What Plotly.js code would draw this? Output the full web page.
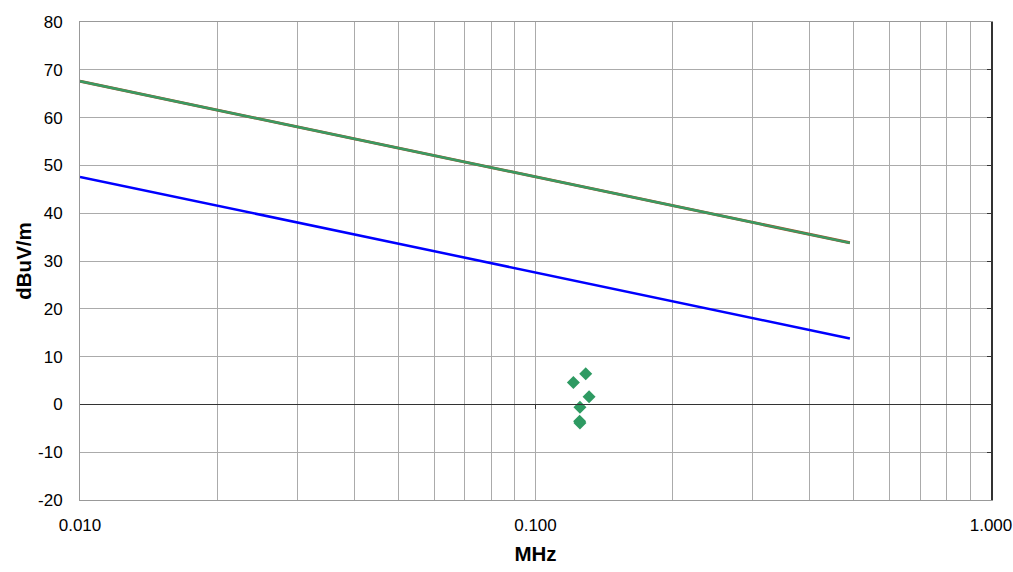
<!DOCTYPE html>
<html>
<head>
<meta charset="utf-8">
<script src="https://cdn.plot.ly/plotly-3.0.1.min.js"></script>
<style>html,body{margin:0;padding:0;background:#fff;}#chart{width:1013px;height:572px;}</style>
</head>
<body>
<div id="chart"></div>
<script>
// Data
const limitFreq = [0.01, 0.49];
const peakLimit = [67.6, 33.8];
const qpLimit = [67.6, 33.8];
const avgLimit = [47.6, 13.8];
const measFreq = [0.1211, 0.1289, 0.1311, 0.1252, 0.1250, 0.1252];
const measLevel = [4.6, 6.4, 1.6, -0.6, -3.5, -3.9];
const xTickVals = [0.01,0.02,0.03,0.04,0.05,0.06,0.07,0.08,0.09,0.1,0.2,0.3,0.4,0.5,0.6,0.7,0.8,0.9,1];
const xTickText = ['0.010','','','','','','','','','0.100','','','','','','','','','1.000'];
const yTickVals = [-20,-10,0,10,20,30,40,50,60,70,80];
const yTickText = ['-20','-10','0','10','20','30','40','50','60','70','80'];

const traces = [
  {x: limitFreq, y: peakLimit, mode:'lines', line:{color:'#a0522d', width:3}, hoverinfo:'skip', showlegend:false},
  {x: limitFreq, y: qpLimit, mode:'lines', line:{color:'#3a9a62', width:2.4}, showlegend:false},
  {x: limitFreq, y: avgLimit, mode:'lines', line:{color:'#0000ff', width:2.5}, showlegend:false},
  {x: measFreq, y: measLevel, mode:'markers', marker:{symbol:'diamond', size:10, color:'#2e9a62'}, showlegend:false},
  {x: limitFreq, y: avgLimit, xaxis:'x2', yaxis:'y2', mode:'lines', line:{width:0}, opacity:0, hoverinfo:'skip', showlegend:false}
];

const fam = '"Liberation Sans", Arial, sans-serif';
const layout = {
  width:1013, height:572,
  margin:{l:80, r:22, t:22, b:72},
  paper_bgcolor:'#fff', plot_bgcolor:'#fff',
  font: {family:fam, color:'#000'},
  xaxis:{
    type:'log', range:[-2,0],
    tickvals:xTickVals, ticktext:xTickText,
    showgrid:true, gridcolor:'#ababab', gridwidth:1,
    showline:true, linecolor:'#999', linewidth:1, mirror:true,
    ticks:'', ticklabelstandoff:10,
    tickfont:{size:17, family:fam, color:'#000'},
    zeroline:false,
    title:{text:'<b>MHz</b>', font:{size:20.5, family:fam, color:'#000'}, standoff:12}
  },
  yaxis:{
    range:[-20,80], tickvals:yTickVals, ticktext:yTickText,
    showgrid:true, gridcolor:'#ababab', gridwidth:1,
    showline:true, linecolor:'#999', linewidth:1,
    ticks:'', ticklabelstandoff:13,
    tickfont:{size:17, family:fam, color:'#000'},
    zeroline:true, zerolinecolor:'#333', zerolinewidth:1,
    title:{text:'<b>dBuV/m</b>', font:{size:20.5, family:fam, color:'#000'}, standoff:0}
  },
  xaxis2:{
    type:'log', range:[-2,0], overlaying:'x', anchor:'free', position:0.2,
    tickvals:[0.1], showticklabels:false, ticks:'outside', ticklen:4, tickcolor:'#333',
    showgrid:false, showline:true, linecolor:'#333', linewidth:1, zeroline:false
  },
  yaxis2:{
    range:[-20,80], overlaying:'y', side:'right', anchor:'x',
    tickvals:yTickVals, showticklabels:false, ticks:'inside', ticklen:4, tickcolor:'#333',
    showgrid:false, showline:true, linecolor:'#333', linewidth:1.5, zeroline:false
  }
};
Plotly.newPlot('chart', traces, layout, {displayModeBar:false, staticPlot:true});
</script>
</body>
</html>
